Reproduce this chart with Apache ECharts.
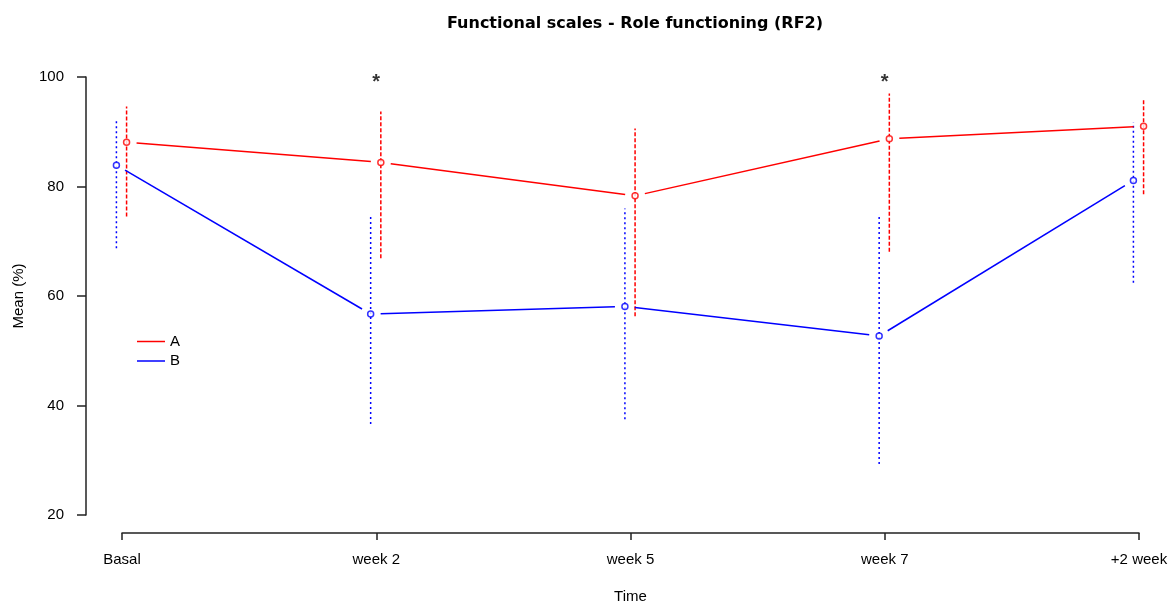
<!DOCTYPE html>
<html>
<head>
<meta charset="utf-8">
<script src="https://cdn.jsdelivr.net/npm/echarts@6/dist/echarts.min.js"></script>
<style>
  html, body { margin: 0; padding: 0; background: #fff; overflow: hidden; }
  #chart { width: 1172px; height: 604px; }
</style>
</head>
<body>
<div id="chart"></div>
<script>
var timepoints = ['Basal', 'week 2', 'week 5', 'week 7', '+2 week'];
var meanA = [88.1, 84.4, 78.3, 88.7, 91.0];
var lowA = [74.5, 66.9, 56.3, 68.1, 78.6];
var highA = [94.6, 93.7, 90.6, 97.0, 96.1];
var meanB = [83.9, 56.7, 58.1, 52.7, 81.1];
var lowB = [68.7, 36.6, 37.5, 29.3, 62.4];
var highB = [92.0, 74.5, 76.0, 74.8, 91.7];
var starIdx = [1, 3];
var starLevel = 99;
var yTicks = [20, 40, 60, 80, 100];

var RED = '#ff0000';
var BLUE = '#0000ff';
var FONT = 'Liberation Sans';

// small horizontal shift so the two groups do not overlap
var offA = 0.018;
var offB = -0.022;

function linkData(mean, off) {
    var out = [];
    for (var i = 0; i < mean.length - 1; i++) {
        out.push([i + off, mean[i], i + 1 + off, mean[i + 1]]);
    }
    return out;
}
function barData(low, high, off) {
    return low.map(function (l, i) { return [i + off, l, high[i]]; });
}
function pointData(mean, off) {
    return mean.map(function (m, i) { return [i + off, m]; });
}

// segment between two points, leaving a gap around each point (R type = "b")
function renderLink(color) {
    return function (params, api) {
        var p0 = api.coord([api.value(0), api.value(1)]);
        var p1 = api.coord([api.value(2), api.value(3)]);
        var dx = p1[0] - p0[0], dy = p1[1] - p0[1];
        var len = Math.sqrt(dx * dx + dy * dy);
        var g = 10;
        var ux = dx / len, uy = dy / len;
        return {
            type: 'line',
            shape: { x1: p0[0] + ux * g, y1: p0[1] + uy * g, x2: p1[0] - ux * g, y2: p1[1] - uy * g },
            style: { stroke: color, lineWidth: 1.5, fill: null }
        };
    };
}
function renderBar(color, dash) {
    return function (params, api) {
        var lo = api.coord([api.value(0), api.value(1)]);
        var hi = api.coord([api.value(0), api.value(2)]);
        return {
            type: 'line',
            shape: { x1: lo[0], y1: lo[1], x2: hi[0], y2: hi[1] },
            style: { stroke: color, lineWidth: 1.5, lineDash: dash, fill: null }
        };
    };
}

var chart = echarts.init(document.getElementById('chart'), null, { renderer: 'canvas', width: 1172, height: 604 });
var option = {
    animation: false,
    backgroundColor: '#ffffff',
    title: {
        text: 'Functional scales - Role functioning (RF2)',
        left: 635,
        top: 16,
        padding: 0,
        textAlign: 'center',
        textStyle: { fontFamily: 'DejaVu Sans', fontWeight: 'bold', fontSize: 16, color: '#000' }
    },
    grid: { left: 122, width: 1017, top: 77, height: 438, outerBoundsMode: 'none' },
    legend: {
        orient: 'vertical',
        left: 137,
        top: 334,
        padding: 0,
        itemWidth: 28,
        itemHeight: 1.5,
        itemGap: 4.5,
        itemTextGap: 15,
        selectedMode: false,
        textStyle: { fontFamily: FONT, fontSize: 15, color: '#000' },
        data: [
            { name: 'A', icon: 'rect', itemStyle: { color: RED } },
            { name: 'B', icon: 'rect', itemStyle: { color: BLUE } }
        ]
    },
    xAxis: {
        type: 'value',
        min: 0,
        max: timepoints.length - 1,
        interval: 1,
        offset: 18,
        name: 'Time',
        nameLocation: 'middle',
        nameGap: 56,
        nameTextStyle: { fontFamily: FONT, fontSize: 15, color: '#000' },
        axisLine: { show: true, onZero: false, lineStyle: { color: '#222', width: 1.5 } },
        axisTick: { show: true, length: 7, lineStyle: { color: '#222', width: 1.5 } },
        axisLabel: {
            fontFamily: FONT, fontSize: 15, color: '#000', margin: 19,
            formatter: function (v) { return timepoints[Math.round(v)]; }
        },
        splitLine: { show: false }
    },
    yAxis: {
        type: 'value',
        min: yTicks[0],
        max: yTicks[yTicks.length - 1],
        interval: 20,
        offset: 36,
        name: 'Mean (%)',
        nameLocation: 'middle',
        nameGap: 60,
        nameTextStyle: { fontFamily: FONT, fontSize: 15, color: '#000' },
        axisLine: { show: true, onZero: false, lineStyle: { color: '#222', width: 1.5 } },
        axisTick: { show: true, length: 9, lineStyle: { color: '#222', width: 1.5 } },
        axisLabel: { fontFamily: FONT, fontSize: 15, color: '#000', margin: 22 },
        splitLine: { show: false }
    },
    series: [
        {
            name: 'A', type: 'custom', clip: false, z: 2,
            renderItem: renderBar(RED, [4, 2]),
            data: barData(lowA, highA, offA)
        },
        {
            name: 'B', type: 'custom', clip: false, z: 2,
            renderItem: renderBar(BLUE, [2, 3]),
            data: barData(lowB, highB, offB)
        },
        {
            name: 'A', type: 'custom', clip: false, z: 3,
            renderItem: renderLink(RED),
            data: linkData(meanA, offA)
        },
        {
            name: 'B', type: 'custom', clip: false, z: 3,
            renderItem: renderLink(BLUE),
            data: linkData(meanB, offB)
        },
        {
            name: 'A', type: 'scatter', clip: false, z: 4,
            symbol: 'circle', symbolSize: 6,
            itemStyle: { color: '#fff', borderColor: RED, borderWidth: 1.5 },
            data: pointData(meanA, offA)
        },
        {
            name: 'B', type: 'scatter', clip: false, z: 4,
            symbol: 'circle', symbolSize: 6,
            itemStyle: { color: '#fff', borderColor: BLUE, borderWidth: 1.5 },
            data: pointData(meanB, offB)
        },
        {
            name: 'sig', type: 'scatter', clip: false, z: 5,
            symbolSize: 0,
            label: {
                show: true, position: 'inside', formatter: '*',
                fontFamily: FONT, fontWeight: 'bold', fontSize: 20, color: '#000'
            },
            data: starIdx.map(function (i) { return [i, starLevel]; })
        }
    ]
};
chart.setOption(option);
</script>
</body>
</html>
